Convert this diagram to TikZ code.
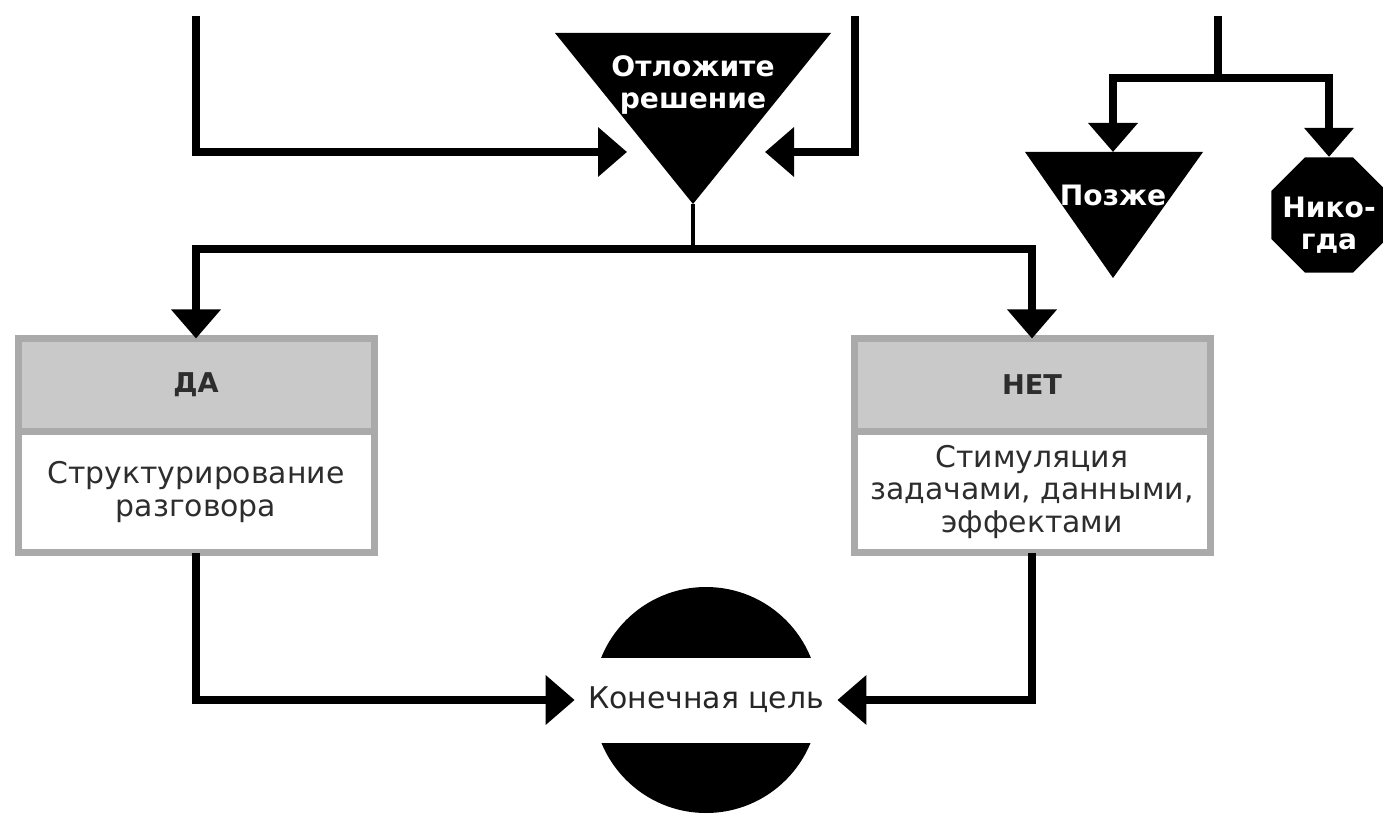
\documentclass[tikz,border=0pt]{standalone}
\usepackage{fontspec}
\setmainfont{DejaVu Sans}
\usetikzlibrary{arrows.meta, positioning, shapes.geometric}

\definecolor{boxgray}{RGB}{170,170,170}
\definecolor{headgray}{RGB}{201,201,201}
\definecolor{inkgray}{RGB}{45,45,45}

\tikzset{
	flow/.style={line width=0.16cm, -{Triangle[width=0.96cm, length=0.58cm]}},
	headbox/.style={draw=boxgray, fill=headgray, line width=0.14cm, outer sep=0pt,
		minimum width=7.12cm, minimum height=1.86cm, text=inkgray,
		font=\fontsize{15.5}{18}\selectfont\bfseries},
	bodybox/.style={draw=boxgray, fill=white, line width=0.14cm, outer sep=0pt,
		minimum width=7.12cm, minimum height=2.42cm, text=inkgray, align=center,
		font=\fontsize{17}{18.5}\selectfont},
	darktext/.style={text=white, align=center, font=\fontsize{16}{18}\selectfont\bfseries},
}

\begin{document}
\begin{tikzpicture}
		\useasboundingbox (0,0) rectangle (27.66,16.3);
		\fill (11.1,15.64) -- (16.62,15.64) -- (13.86,12.22) coordinate (apex) -- cycle;
		\node[darktext] (wait) at (13.86,14.6) {Отложите\\решение};
		\fill (20.5,13.26) -- (24.06,13.26) -- (22.26,10.74) -- cycle;
		\coordinate (latertop) at (22.26,13.26);
		\node[darktext] (later) at (22.26,12.4) {Позже};
		\node[regular polygon, regular polygon sides=8, minimum size=2.5cm, inner sep=0pt,
			fill=black] (never) at (26.58,12.0) {};
		\node[darktext] (nevertext) at ([yshift=-0.2cm]never.center) {Нико-\\гда};
		\node[circle, fill=black, minimum size=4.52cm, inner sep=0pt] (goal) at (14.12,2.3) {};
		\node[fill=white, minimum width=5.24cm, minimum height=1.7cm, text=black!85,
			font=\fontsize{17}{18}\selectfont] (goallabel) at (goal.center) {Конечная цель};
		\node[headbox] (yeshead) at (3.92,8.6) {ДА};
		\node[bodybox, below=0pt of yeshead] (yesbody) {Структурирование\\разговора};
		\node[headbox] (nohead) at (20.64,8.6) {НЕТ};
		\node[bodybox, below=0pt of nohead] (nobody) {Стимуляция\\задачами, данными,\\эффектами};
		\coordinate (leftin) at (3.92,15.98);
		\coordinate (rightin) at (17.1,15.98);
		\coordinate (waitL) at (12.54,13.26);
		\coordinate (waitR) at (15.3,13.26);
		\coordinate (split) at (13.86,11.32);
		\coordinate (topin) at (24.36,15.98);
		\coordinate (branch) at (24.36,14.74);
		\draw[flow] (leftin) |- (waitL);
		\draw[flow] (rightin) |- (waitR);
		\draw[line width=0.09cm] (apex) -- (split);
		\draw[flow] (split) -| (yeshead.north);
		\draw[flow] (split) -| (nohead.north);
		\draw[line width=0.16cm] (topin) -- (branch);
		\draw[flow] (branch) -| (latertop);
		\draw[flow] (branch) -| (never.north);
		\draw[flow] (yesbody.south) |- (goallabel.west);
		\draw[flow] (nobody.south) |- (goallabel.east);
	\end{tikzpicture}
\end{document}
